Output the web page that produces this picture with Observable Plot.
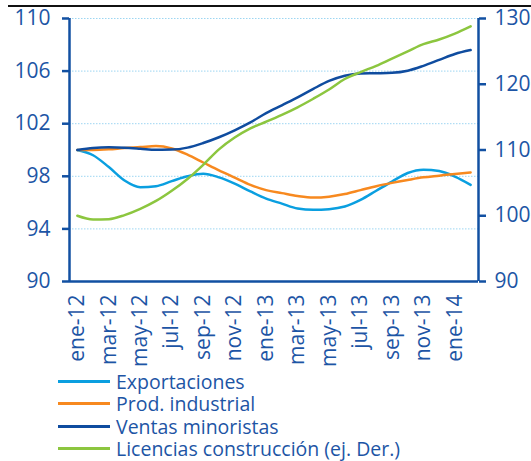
<!DOCTYPE html>
<html>
<head>
<meta charset="utf-8">
<script src="https://cdn.jsdelivr.net/npm/d3@7"></script>
<script src="https://cdn.jsdelivr.net/npm/@observablehq/plot@0.6"></script>
<style>
  html, body { margin: 0; padding: 0; background: white; }
  #wrap { position: relative; width: 531px; height: 461px; font-family: "Open Sans", sans-serif; }
  #topline { position: absolute; top: 5px; left: 8px; width: 523px; height: 2px; background: #111; }
  #legend { position: absolute; left: 58px; top: 370px; }
  .row { display: flex; align-items: center; height: 22.5px; font-size: 19.5px; color: #1d55a5; white-space: nowrap; }
  .sw { width: 52px; height: 3px; margin-right: 6px; }
  .lt { display: inline-block; line-height: 19px; height: 19px; overflow: visible; }
</style>
</head>
<body>
<div id="wrap"><div id="chart"></div><div id="topline"></div><div id="legend"></div></div>
<script>
const months = ["ene-12","feb-12","mar-12","abr-12","may-12","jun-12","jul-12","ago-12","sep-12","oct-12","nov-12","dic-12",
  "ene-13","feb-13","mar-13","abr-13","may-13","jun-13","jul-13","ago-13","sep-13","oct-13","nov-13","dic-13","ene-14","feb-14"];
const exportaciones = [100, 99.6, 98.7, 97.68, 97.17, 97.25, 97.63, 98.0, 98.19, 97.92, 97.45, 96.85, 96.3, 95.92, 95.55, 95.45, 95.5, 95.7, 96.2, 96.9, 97.6, 98.25, 98.5, 98.4, 97.98, 97.35];
const prodIndustrial = [100, 100.0, 100.05, 100.15, 100.22, 100.3, 100.12, 99.65, 99.05, 98.45, 97.9, 97.35, 96.95, 96.72, 96.5, 96.38, 96.45, 96.65, 96.95, 97.25, 97.5, 97.72, 97.92, 98.05, 98.18, 98.29];
const ventasMinoristas = [100, 100.15, 100.2, 100.17, 100.1, 100.02, 100.03, 100.18, 100.53, 100.97, 101.5, 102.1, 102.8, 103.4, 104.0, 104.65, 105.25, 105.65, 105.82, 105.84, 105.87, 106.03, 106.4, 106.85, 107.3, 107.6];
const licencias = [100, 99.43, 99.48, 100.1, 101.05, 102.25, 103.8, 105.6, 107.75, 110.1, 111.9, 113.3, 114.3, 115.35, 116.5, 117.8, 119.2, 120.8, 121.85, 122.8, 123.9, 125.0, 126.1, 126.8, 127.7, 128.8];
const seriesNames = ["Exportaciones", "Prod. industrial", "Ventas minoristas", "Licencias construcción (ej. Der.)"];
const seriesColors = ["#0a9fe0", "#f7891f", "#0f4c9f", "#8cc63f"];
const leftTicks = [90, 94, 98, 102, 106, 110];
const rightTicks = [90, 100, 110, 120, 130];
const xTickIdx = [0, 2, 4, 6, 8, 10, 12, 14, 16, 18, 20, 22, 24];

const axisColor = "#1250a2";
const toLeft = v => 90 + (v - 90) / 2;
const fromLeft = v => 90 + (v - 90) * 2;

const seriesValues = [exportaciones, prodIndustrial, ventasMinoristas, licencias];
const rows = [];
seriesValues.forEach((vals, s) => {
  vals.forEach((v, i) => rows.push({ i, series: seriesNames[s], y: s === 3 ? toLeft(v) : v }));
});

const chart = Plot.plot({
  width: 531,
  height: 368,
  marginLeft: 69,
  marginRight: 53,
  marginTop: 18,
  marginBottom: 87,
  style: { fontFamily: "'Open Sans', sans-serif", fontSize: "21px", color: "#1d55a5", background: "white", overflow: "visible" },
  x: { type: "linear", domain: [-0.5, 25.5] },
  y: { domain: [90, 110] },
  color: { domain: seriesNames, range: seriesColors },
  marks: [
    Plot.gridY(leftTicks.slice(1), { stroke: "#9dd6f2", strokeOpacity: 1, strokeDasharray: "1.5,1.5", strokeWidth: 1 }),
    Plot.axisY(leftTicks, { anchor: "left", tickSize: 7, tickPadding: 12, strokeWidth: 2.5, stroke: axisColor, label: null }),
    Plot.axisY(rightTicks.map(toLeft), { anchor: "right", tickSize: 7, tickPadding: 9, strokeWidth: 2.5, stroke: axisColor, tickFormat: d => String(Math.round(fromLeft(d))), label: null }),
    Plot.axisX(xTickIdx, { anchor: "bottom", tickSize: 0, tickPadding: 13, tickRotate: -90, tickFormat: i => months[i], label: null }),
    Plot.ruleX([-0.5, 25.5], { stroke: axisColor, strokeWidth: 2.5 }),
    Plot.ruleY([90], { stroke: axisColor, strokeWidth: 2.5 }),
    Plot.line(rows, { x: "i", y: "y", z: "series", stroke: "series", curve: "monotone-x", strokeWidth: 2.5 })
  ]
});
document.getElementById("chart").appendChild(chart);

const legend = document.getElementById("legend");
seriesNames.forEach((name, k) => {
  const row = document.createElement("div");
  row.className = "row";
  const sw = document.createElement("span");
  sw.className = "sw";
  sw.style.background = seriesColors[k];
  const t = document.createElement("span");
  t.className = "lt";
  t.textContent = name;
  row.appendChild(sw);
  row.appendChild(t);
  legend.appendChild(row);
});
</script>
</body>
</html>
